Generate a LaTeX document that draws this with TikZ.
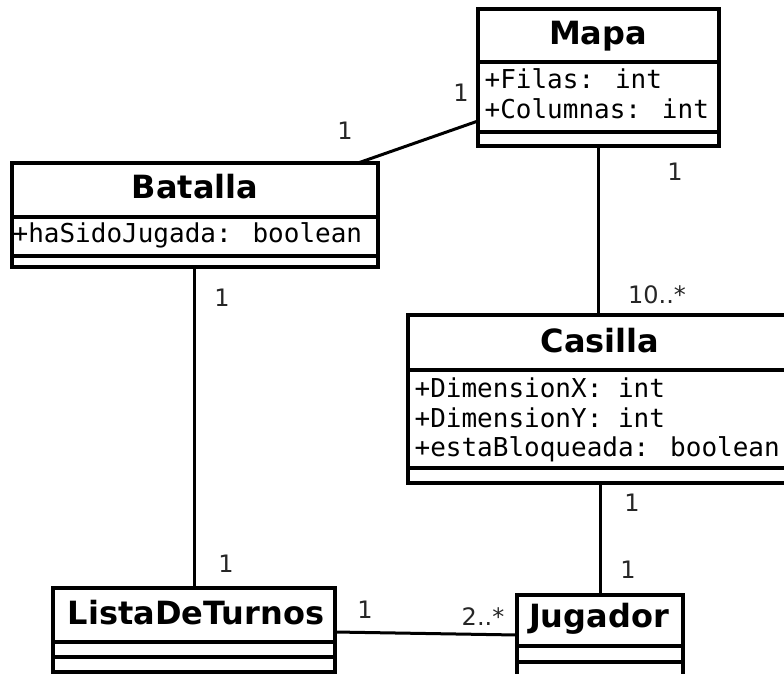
\documentclass[tikz,border=0pt]{standalone}
\usepackage{fontspec}
\usetikzlibrary{calc}
\setmainfont{DejaVu Sans}
\newfontfamily\attrfont{DejaVu Sans Mono}
\newfontfamily\labelfont{DejaVu Sans}

\begin{document}
\begin{tikzpicture}[x=1pt,y=-1pt,
  line width=3.2pt,
  umlclass/.style={draw=black, fill=white, rectangle, outer sep=0pt, inner sep=0pt, anchor=north west},
  classname/.style={font=\bfseries\fontsize{32}{36}\selectfont, anchor=base, inner sep=0pt},
  attr/.style={font=\attrfont\fontsize{26}{30}\selectfont, anchor=base west, inner sep=0pt},
  mult/.style={font=\labelfont\fontsize{24}{28}\selectfont, text=black!85, inner sep=0pt},
  assoc/.style={draw=black, line width=3pt},
  sep/.style={draw=black, line width=3.2pt}]
\useasboundingbox (0,0) rectangle (784,674);
\clip (0,0) rectangle (784,674);

% Mapa
\node[umlclass, minimum width=241pt, minimum height=137pt] (mapa) at (478,9) {};
\draw[sep] ([yshift=-53pt]mapa.north west) -- ([yshift=-53pt]mapa.north east);
\draw[sep] ([yshift=-123pt]mapa.north west) -- ([yshift=-123pt]mapa.north east);
\node[classname] (mapa-t) at (598,45) {Mapa};
\node[attr] (mapa-a1) at (483,89) {+Filas: int};
\node[attr] (mapa-a2) at (483,119) {+Columnas: int};

% Batalla
\node[umlclass, minimum width=366pt, minimum height=104pt] (batalla) at (12,163) {};
\draw[sep] ([yshift=-54pt]batalla.north west) -- ([yshift=-54pt]batalla.north east);
\draw[sep] ([yshift=-93pt]batalla.north west) -- ([yshift=-93pt]batalla.north east);
\node[classname] (batalla-t) at (195,198) {Batalla};
\node[attr] (batalla-a1) at (11,242) {+haSidoJugada: boolean};

% Casilla
\node[umlclass, minimum width=384pt, minimum height=168pt] (casilla) at (408,315) {};
\draw[sep] ([yshift=-55pt]casilla.north west) -- ([yshift=-55pt]casilla.north east);
\draw[sep] ([yshift=-153pt]casilla.north west) -- ([yshift=-153pt]casilla.north east);
\node[classname] (casilla-t) at (600,352) {Casilla};
\node[attr] (casilla-a1) at (413,397) {+DimensionX: int};
\node[attr] (casilla-a2) at (413,427) {+DimensionY: int};
\node[attr] (casilla-a3) at (413,456) {+estaBloqueada: boolean};

% ListaDeTurnos
\node[umlclass, minimum width=282pt, minimum height=84pt] (lista) at (53,588) {};
\draw[sep] ([yshift=-54pt]lista.north west) -- ([yshift=-54pt]lista.north east);
\draw[sep] ([yshift=-69pt]lista.north west) -- ([yshift=-69pt]lista.north east);
\node[classname] (lista-t) at (196,624) {ListaDeTurnos};

% Jugador
\node[umlclass, minimum width=166pt, minimum height=82pt] (jugador) at (517,595) {};
\draw[sep] ([yshift=-51pt]jugador.north west) -- ([yshift=-51pt]jugador.north east);
\draw[sep] ([yshift=-67pt]jugador.north west) -- ([yshift=-67pt]jugador.north east);
\node[classname] (jugador-t) at (599,627) {Jugador};

% Associations
\draw[assoc] ($(batalla.north west)+(346,0)$) -- ($(mapa.north west)+(0,112)$);
\draw[assoc] ($(mapa.south west)+(120,0)$) -- ($(casilla.north west)+(190,0)$);
\draw[assoc] ($(batalla.south west)+(182,0)$) -- ($(lista.north west)+(141,0)$);
\draw[assoc] ($(casilla.south west)+(192,0)$) -- ($(jugador.north west)+(83,0)$);
\draw[assoc] ($(lista.north east)+(0,44)$) -- ($(jugador.north west)+(0,40)$);

% Multiplicities
\node[mult] (m1) at (461,93) {1};
\node[mult] (m2) at (345,131) {1};
\node[mult] (m3) at (675,172) {1};
\node[mult] (m4) at (657,295) {10..*};
\node[mult] (m5) at (222,298) {1};
\node[mult] (m6) at (226,564) {1};
\node[mult] (m7) at (632,503) {1};
\node[mult] (m8) at (628,570) {1};
\node[mult] (m9) at (365,610) {1};
\node[mult] (m10) at (483,617) {2..*};
\end{tikzpicture}
\end{document}
